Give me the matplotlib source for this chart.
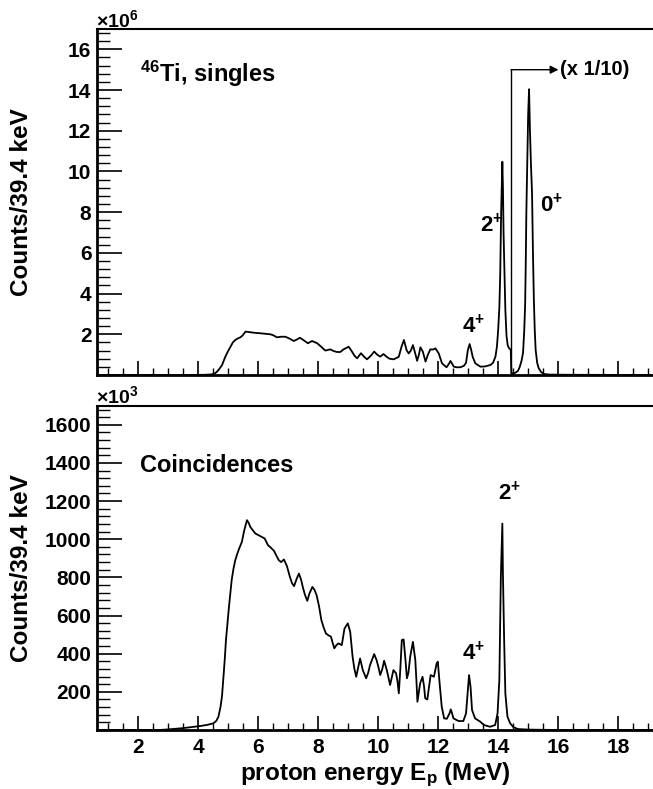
import numpy as np
import matplotlib
matplotlib.use("Agg")
import matplotlib.pyplot as plt
from matplotlib.ticker import MultipleLocator

plt.rcParams['font.family'] = ['Liberation Sans', 'DejaVu Sans']
plt.rcParams['font.weight'] = 'bold'
plt.rcParams['axes.labelweight'] = 'bold'
plt.rcParams['mathtext.fontset'] = 'custom'
plt.rcParams['mathtext.rm'] = 'Liberation Sans:bold'
plt.rcParams['mathtext.bf'] = 'Liberation Sans:bold'
plt.rcParams['mathtext.it'] = 'Liberation Sans:bold'

# 46Ti singles spectrum, counts in units of 1e6 (values above 14.42 MeV shown x 1/10)
singles_e = [0.62, 3.5, 4.2, 4.45, 4.55, 4.62, 4.7, 4.79, 4.9, 5.0, 5.07, 5.15, 5.23, 5.32, 5.4,
             5.48, 5.57, 5.65, 5.73, 5.9, 6.07, 6.25, 6.4, 6.5, 6.62, 6.75, 6.9, 7.05, 7.18, 7.28,
             7.38, 7.5, 7.65, 7.79, 7.96, 8.1, 8.23, 8.4, 8.5, 8.62, 8.73, 8.84, 9.01, 9.12, 9.2,
             9.29, 9.42, 9.52, 9.62, 9.75, 9.86, 9.96, 10.06, 10.17, 10.27, 10.37, 10.51, 10.62,
             10.68, 10.77, 10.85, 10.94, 11.01, 11.08, 11.15, 11.22, 11.29, 11.35, 11.4, 11.48,
             11.57, 11.65, 11.73, 11.82, 11.9, 12.01, 12.12, 12.27, 12.35, 12.4, 12.46, 12.51,
             12.6, 12.73, 12.85, 12.92, 12.98, 13.04, 13.09, 13.14, 13.23, 13.4, 13.55, 13.73,
             13.82, 13.9, 13.95, 13.99, 14.03, 14.06, 14.09, 14.11, 14.13, 14.15, 14.17, 14.2,
             14.23, 14.27, 14.31, 14.36, 14.41, 14.43, 14.55, 14.65, 14.71, 14.77, 14.82, 14.86,
             14.89, 14.91, 14.93, 14.96, 14.99, 15.02, 15.05, 15.08, 15.12, 15.15, 15.18, 15.21,
             15.24, 15.29, 15.34, 15.42, 15.51, 15.7, 16.5, 19.2]
singles_counts = [0.0, 0.0, 0.01, 0.03, 0.08, 0.16, 0.3, 0.49, 0.9, 1.2, 1.39, 1.6, 1.72, 1.8, 1.85,
                  1.95, 2.13, 2.12, 2.1, 2.07, 2.05, 2.02, 2.0, 1.95, 1.85, 1.88, 1.88, 1.78, 1.67, 1.74,
                  1.83, 1.72, 1.56, 1.67, 1.56, 1.38, 1.2, 1.26, 1.18, 1.13, 1.13, 1.26, 1.39, 1.15, 0.95,
                  0.82, 1.07, 0.9, 0.77, 0.95, 1.15, 1.0, 0.9, 1.03, 0.9, 0.8, 0.77, 0.85,
                  0.9, 1.39, 1.72, 1.22, 1.06, 1.2, 1.47, 1.1, 0.7, 1.0, 1.36, 1.15,
                  0.66, 1.0, 1.26, 1.25, 1.31, 1.06, 0.57, 0.38, 0.55, 0.69, 0.55, 0.41,
                  0.38, 0.38, 0.45, 0.6, 1.22, 1.52, 1.25, 0.9, 0.57, 0.41, 0.42, 0.49,
                  0.6, 0.9, 1.4, 2.2, 3.3, 5.0, 8.0, 9.3, 10.48, 9.2, 7.0, 5.0,
                  3.2, 1.9, 1.45, 1.3, 1.25, 0.08, 0.1, 0.2, 0.4, 0.7, 1.1, 2.2,
                  3.5, 5.5, 8.0, 10.5, 12.8, 14.04, 12.0, 10.5, 8.9, 6.0, 3.7, 2.2,
                  1.23, 0.6, 0.34, 0.15, 0.05, 0.02, 0.01, 0.0]

# coincidence spectrum, counts in units of 1e3
coinc_e = [0.62, 2.7, 3.07, 3.5, 4.07, 4.3, 4.5, 4.6, 4.67, 4.74, 4.79, 4.83, 4.88, 4.92, 4.97,
           5.02, 5.07, 5.11, 5.17, 5.23, 5.3, 5.36, 5.45, 5.53, 5.62, 5.68, 5.73, 5.8, 5.9, 6.07,
           6.21, 6.32, 6.42, 6.52, 6.6, 6.68, 6.76, 6.85, 6.95, 7.05, 7.12, 7.19, 7.27, 7.35, 7.42,
           7.48, 7.55, 7.63, 7.7, 7.8, 7.87, 7.94, 8.02, 8.1, 8.17, 8.25, 8.33, 8.42, 8.47, 8.53,
           8.6, 8.67, 8.78, 8.87, 8.98, 9.06, 9.14, 9.2, 9.26, 9.33, 9.39, 9.48, 9.59, 9.66, 9.72,
           9.86, 9.94, 10.0, 10.06, 10.13, 10.19, 10.28, 10.34, 10.39, 10.45, 10.5, 10.59, 10.64,
           10.68, 10.73, 10.78, 10.84, 10.9, 10.95, 11.0, 11.06, 11.15, 11.23, 11.27, 11.3, 11.35,
           11.39, 11.47, 11.52, 11.56, 11.63, 11.68, 11.74, 11.85, 11.94, 11.98, 12.03, 12.11,
           12.19, 12.28, 12.37, 12.41, 12.45, 12.5, 12.67, 12.83, 12.92, 12.98, 13.02, 13.07,
           13.12, 13.22, 13.39, 13.52, 13.72, 13.89, 13.97, 14.03, 14.08, 14.13, 14.15, 14.19,
           14.23, 14.3, 14.39, 14.5, 14.65, 15.0, 16.0, 19.2]
coinc_counts = [0, 0, 4, 10, 21, 27, 35, 48, 70, 122, 180, 262, 370, 471, 560,
                645, 720, 785, 845, 890, 925, 951, 986, 1047, 1100, 1085, 1065, 1050, 1030, 1016,
                1004, 969, 955, 939, 915, 890, 880, 894, 860, 803, 770, 754, 790, 820, 790,
                750, 710, 677, 715, 750, 735, 707, 650, 576, 540, 506, 497, 489, 460, 428,
                445, 454, 445, 532, 559, 515, 384, 320, 279, 330, 375, 314, 271, 300, 340,
                398, 366, 330, 288, 320, 363, 314, 270, 236, 280, 314, 297, 250,
                192, 320, 471, 475, 370, 271, 300, 384, 462, 366, 250, 148, 200,
                244, 279, 230, 166, 160, 220, 288, 279, 349, 358, 262, 122,
                61, 59, 87, 108, 90, 61, 47, 47, 87, 209, 288, 227,
                105, 61, 44, 26, 17, 26, 87, 262, 803, 1082, 812, 471,
                192, 70, 35, 15, 5, 2, 0, 0]

W, H = 653, 789
fig = plt.figure(figsize=(W / 100, H / 100), dpi=100)
left = 97 / W
ax1 = fig.add_axes([left, 1 - 375 / H, 1 - left, (375 - 29) / H])
ax2 = fig.add_axes([left, 1 - 730 / H, 1 - left, (730 - 405.7) / H])

ax1.plot(singles_e, singles_counts, color='black', lw=1.3)
ax2.plot(coinc_e, coinc_counts, color='black', lw=1.3)

for ax, ymax, ymaj, ymin in [(ax1, 17, 2, 0.4), (ax2, 1700, 200, 40)]:
    ax.set_xlim(0.623, 19.15)
    ax.set_ylim(0, ymax)
    ax.xaxis.set_major_locator(MultipleLocator(2))
    ax.xaxis.set_minor_locator(MultipleLocator(0.5))
    ax.yaxis.set_major_locator(MultipleLocator(ymaj))
    ax.yaxis.set_minor_locator(MultipleLocator(ymin))
    ax.tick_params(axis='x', which='major', direction='in', length=10, width=1.2, labelsize=15, pad=6)
    ax.tick_params(axis='x', which='minor', direction='in', length=5, width=1.0)
    ax.tick_params(axis='y', which='major', direction='in', length=18, width=1.2, labelsize=15, pad=4)
    ax.tick_params(axis='y', which='minor', direction='in', length=9, width=1.0)
    ax.spines['right'].set_visible(False)
    ax.spines['left'].set_linewidth(2)
    ax.spines['bottom'].set_linewidth(2)
    ax.spines['top'].set_linewidth(1.5)
    labels = [t for t in ax.get_yticks() if 0 < t < ymax]
    ax.set_yticks(labels)
    ax.set_yticklabels([f"{t:g}" for t in labels])

ax1.tick_params(axis='x', labelbottom=False)
ax2.set_xticks(range(2, 19, 2))

fig.text(22 / W, 1 - 202 / H, "Counts/39.4 keV", rotation=90, ha='center', va='center', fontsize=17.5)
fig.text(22 / W, 1 - 568 / H, "Counts/39.4 keV", rotation=90, ha='center', va='center', fontsize=17.5)
ax2.set_xlabel(r"proton energy E$_{\mathbf{p}}$ (MeV)", fontsize=17.5, fontweight='bold', labelpad=2)

fig.text(96 / W, 1 - 27 / H, r"$\times$10$^{6}$", fontsize=14, va='baseline')
fig.text(96 / W, 1 - 403 / H, r"$\times$10$^{3}$", fontsize=14, va='baseline')

ax1.text(2.05, 14.4, r"$^{46}$Ti, singles", fontsize=17)
ax1.text(13.39, 7.04, r"2$^{+}$", fontsize=16)
ax1.text(15.37, 7.99, r"0$^{+}$", fontsize=16)
ax1.text(12.8, 2.05, r"4$^{+}$", fontsize=16)
ax1.plot([14.42, 14.42], [0.1, 15.0], color='black', lw=1.0)
ax1.annotate("", xy=(16.0, 15.0), xytext=(14.42, 15.0),
             arrowprops=dict(arrowstyle='-|>', lw=1.0, color='black', mutation_scale=12,
                             shrinkA=0, shrinkB=0))
ax1.text(16.05, 15.0, "(x 1/10)", fontsize=14.5, va='center')

ax2.text(2.06, 1352, "Coincidences", fontsize=17)
ax2.text(13.98, 1204, r"2$^{+}$", fontsize=16)
ax2.text(12.8, 366, r"4$^{+}$", fontsize=16)

fig.savefig("out.png", dpi=100)
